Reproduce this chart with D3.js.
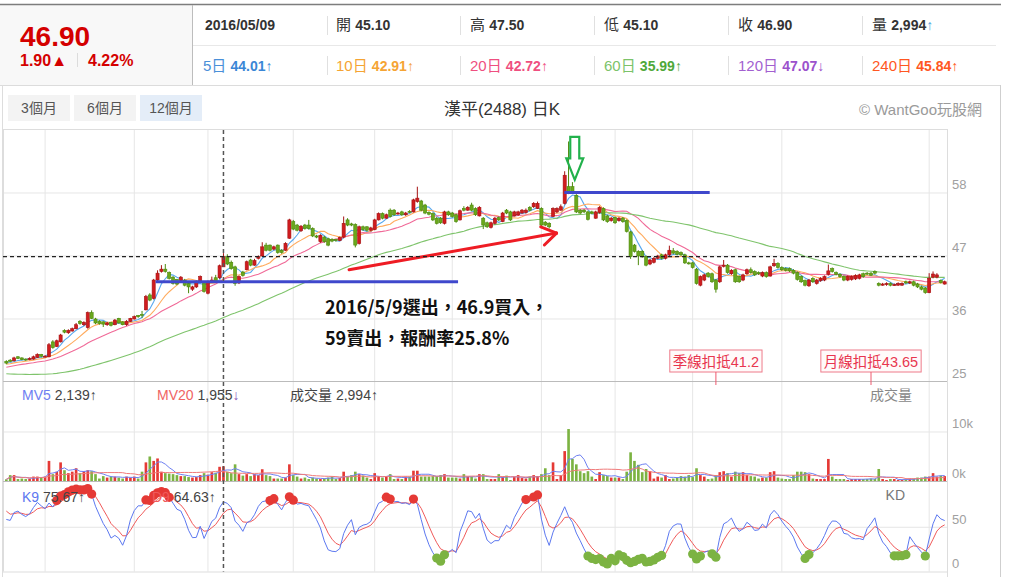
<!DOCTYPE html>
<html><head><meta charset="utf-8">
<script src="https://cdn.jsdelivr.net/npm/d3@7/dist/d3.min.js"></script>
<style>
html,body{margin:0;padding:0;background:#fff;}
svg{display:block;font-family:"Liberation Sans","Noto Sans CJK TC",Arial,sans-serif;}
</style></head><body>
<svg id="chart" width="1010" height="577"></svg>
<script>
// ---------------- DATA ----------------
const opens = [
28.6,28.8,28.7,29.4,29.2,29.0,28.9,29.0,29.3,29.8,
29.4,29.4,32.0,31.2,32.0,34.0,33.6,33.9,34.3,35.6,
35.0,34.5,37.1,36.0,35.6,35.5,35.0,35.4,35.0,36.1,
35.5,35.0,35.6,36.0,36.6,36.8,37.6,40.2,39.6,42.8,
44.3,44.7,44.1,43.3,42.9,42.7,42.8,42.2,41.2,41.6,
42.5,42.3,40.5,42.5,43.2,43.2,45.1,46.9,45.9,45.1,
42.3,44.2,44.6,46.3,45.4,46.6,47.0,48.9,48.9,48.2,
48.9,48.0,48.0,50.1,53.0,52.4,51.4,52.4,52.4,51.8,
50.5,49.5,50.3,50.0,49.9,49.9,49.7,50.3,53.3,52.6,
52.5,49.2,52.1,52.1,51.5,51.6,53.3,54.4,53.6,55.0,
55.0,54.4,54.7,54.2,54.8,54.7,56.5,56.6,55.9,54.6,
54.4,53.6,53.6,52.7,54.7,54.5,54.2,53.3,55.3,55.0,
55.9,55.3,54.0,53.6,52.8,52.0,52.7,53.7,53.0,55.0,
54.7,54.0,54.2,54.5,54.6,55.5,55.6,55.3,55.3,52.9,
52.7,53.9,54.7,55.0,56.2,59.1,59.1,57.6,55.0,55.0,
54.7,54.7,53.6,54.6,55.3,54.0,53.2,53.7,53.2,53.6,
53.2,51.2,48.9,47.8,47.8,46.9,45.6,45.9,46.6,47.2,
46.6,47.2,47.9,47.8,47.6,47.2,45.8,45.8,44.7,41.9,
42.8,44.0,43.9,42.8,42.5,45.2,45.4,43.9,44.6,43.4,
42.8,43.9,44.6,44.3,44.1,43.5,44.1,43.5,45.3,45.7,
45.0,44.8,44.8,44.5,44.1,43.4,42.7,41.8,43.1,42.2,
42.7,42.8,43.8,44.8,44.1,43.8,43.4,42.8,42.9,43.0,
43.1,43.9,44.0,44.0,44.3,42.2,41.9,42.0,42.2,41.9,
41.9,41.9,42.5,42.3,42.5,42.1,41.6,41.4,40.6,43.3,
43.3,42.7,42.1];
const closes = [
28.3,28.6,29.2,29.1,28.9,28.9,29.1,29.4,29.8,29.5,
29.5,31.5,31.0,32.2,33.2,33.7,34.0,34.3,35.0,35.2,
35.4,37.1,36.1,35.3,35.2,35.1,35.3,34.9,35.8,35.3,
35.0,35.6,36.1,36.4,36.4,36.7,39.9,39.3,42.8,44.0,
44.7,44.3,43.1,42.2,42.1,43.3,41.9,41.6,41.6,42.5,
43.4,40.8,42.5,42.8,42.6,45.3,46.9,45.6,44.8,42.2,
43.4,43.6,46.0,45.4,46.2,46.9,48.6,48.0,48.0,48.6,
47.6,47.6,49.2,53.3,51.7,51.5,52.2,51.8,51.8,50.5,
50.3,50.6,49.5,48.9,49.6,49.7,50.2,52.7,52.4,52.4,
48.9,52.1,51.6,51.5,51.9,53.3,54.4,53.6,54.2,53.9,
54.2,54.5,54.2,54.5,54.7,56.8,57.1,55.0,54.5,54.3,
53.3,52.7,52.8,54.7,54.2,53.9,53.0,54.9,55.0,55.5,
55.0,54.2,55.5,52.4,52.1,52.8,53.6,53.3,54.5,54.5,
53.3,54.7,54.7,55.0,55.0,55.0,56.2,56.2,52.4,52.4,
52.1,55.3,55.3,55.6,61.1,58.0,58.2,54.7,54.5,54.7,
53.4,54.5,54.7,55.5,53.3,53.0,53.6,52.8,53.6,53.0,
51.3,46.9,47.8,47.0,46.9,45.4,46.3,46.6,47.0,46.6,
47.2,48.0,47.5,47.3,47.2,45.8,45.7,45.0,42.2,43.4,
43.7,43.4,42.5,41.2,45.1,45.4,44.1,44.5,42.5,42.5,
43.7,44.6,44.1,43.7,43.9,44.1,43.4,45.1,45.7,45.0,
44.6,44.5,44.4,44.0,42.9,42.5,41.9,42.8,42.5,42.8,
43.1,43.4,44.4,44.3,43.8,43.4,42.8,43.4,43.4,43.6,
43.7,43.4,43.85,43.65,44.0,41.9,42.1,42.2,41.9,42.0,
42.2,42.2,42.3,42.5,41.9,41.6,41.2,40.6,43.1,43.85,
43.7,42.35,42.5];
const highs = [
28.8,29.0,29.4,29.5,29.3,29.1,29.3,29.6,30.0,29.9,
29.7,31.8,32.3,32.4,33.4,34.2,34.2,34.5,35.3,35.8,
35.6,37.3,37.5,36.2,35.8,35.6,35.5,35.5,36.0,36.2,
35.6,35.8,36.2,36.6,36.7,37.4,40.2,40.5,43.0,44.5,
45.4,45.6,44.3,43.5,43.0,43.5,43.0,42.4,41.8,42.7,
43.6,42.5,42.7,43.4,43.7,45.5,47.5,47.3,46.2,45.3,
43.6,44.4,46.2,46.5,46.5,47.1,49.4,49.3,49.0,48.8,
49.0,48.2,49.4,53.5,53.3,52.6,52.4,52.6,53.3,52.0,
50.7,50.8,50.5,50.2,50.1,50.0,50.4,53.9,53.6,52.8,
52.7,52.3,52.3,52.2,52.1,53.5,54.6,54.6,54.4,55.3,
55.2,54.7,54.9,54.7,55.0,57.0,59.1,56.8,56.1,54.8,
54.6,53.8,53.8,54.9,54.9,54.7,54.4,55.1,55.7,55.7,
56.3,55.5,55.7,53.8,53.0,53.0,53.8,53.9,54.7,55.2,
54.9,54.9,54.9,55.2,55.3,55.7,56.4,56.5,55.5,53.1,
52.9,55.5,55.5,56.0,61.8,67.0,59.9,57.8,55.2,55.2,
54.9,54.9,54.9,55.7,55.5,54.2,53.8,53.9,53.8,53.8,
53.4,51.4,49.1,48.0,48.0,47.1,46.5,46.8,47.2,47.4,
47.4,48.8,48.4,48.0,47.8,47.4,46.0,46.0,44.9,43.6,
43.9,44.2,44.1,43.0,45.3,46.3,45.6,44.7,44.8,43.6,
43.9,44.8,45.0,44.5,44.3,44.3,44.3,45.3,46.5,45.9,
45.2,45.0,45.0,44.7,44.3,43.6,42.9,43.0,43.3,43.0,
43.3,43.6,45.5,45.0,44.3,44.0,43.6,43.6,43.6,43.8,
43.9,44.1,44.2,44.2,44.5,42.4,42.3,42.4,42.4,42.2,
42.4,42.4,42.7,42.7,42.7,42.3,41.8,41.6,44.0,44.3,
44.0,42.9,42.7];
const lows = [
28.1,28.5,28.6,29.0,28.8,28.7,28.8,28.9,29.2,29.3,
29.3,29.3,30.8,31.1,31.9,33.5,33.4,33.8,34.2,35.0,
34.8,34.3,36.0,35.1,35.0,34.6,34.8,34.7,34.9,35.2,
34.9,34.8,35.5,35.9,36.2,36.2,37.5,39.1,39.4,42.6,
44.1,44.1,42.9,42.0,41.9,42.5,41.7,40.5,40.9,41.4,
42.4,40.6,40.3,42.3,42.4,43.0,45.1,45.4,44.6,41.8,
42.1,43.4,44.5,45.2,45.3,46.4,46.9,47.8,47.8,48.0,
47.4,47.4,47.9,50.0,51.5,51.3,51.2,51.6,51.6,50.3,
50.1,49.3,49.3,48.7,49.4,49.5,49.6,50.1,52.2,52.2,
48.5,49.0,51.4,51.3,51.3,51.5,53.2,53.4,53.5,53.7,
54.0,54.2,54.0,54.0,54.5,54.6,56.3,54.8,54.3,54.1,
53.1,52.5,52.6,52.5,54.0,53.7,52.8,53.2,54.8,54.9,
54.8,54.0,53.9,51.7,51.9,51.8,52.5,53.1,52.9,54.3,
53.1,53.9,54.0,54.4,54.4,54.8,55.4,55.2,52.2,52.2,
51.8,53.8,54.5,54.9,56.0,57.8,58.0,54.5,54.3,54.5,
53.2,54.3,53.5,54.4,53.1,52.8,53.0,52.6,53.0,52.8,
51.1,46.5,47.6,45.4,46.7,45.2,45.4,45.7,46.4,46.4,
46.4,47.0,47.3,47.1,47.0,45.6,45.5,44.8,42.0,41.7,
42.6,43.2,42.3,40.6,42.3,45.0,43.9,43.7,42.3,42.3,
42.6,43.7,43.9,43.5,43.7,43.3,43.2,43.4,45.1,44.8,
44.4,44.3,44.2,43.8,42.7,42.3,41.7,41.6,42.3,42.0,
42.5,42.6,43.6,44.1,43.6,43.2,42.6,42.6,42.7,42.8,
42.9,43.2,43.7,43.5,43.8,41.7,41.8,41.8,41.7,41.8,
41.8,41.8,42.1,42.1,41.7,41.4,41.0,40.4,40.5,43.1,
43.1,42.2,42.0];
// volume in thousand lots
const volumesK = [
0.35,1.2,1.2,0.4,0.5,0.4,0.5,0.9,0.9,0.8,
0.9,4.1,1.4,1.9,3.8,2.2,1.6,1.9,2.6,1.6,
2.0,2.2,2.0,1.4,0.5,1.0,0.7,0.9,0.9,0.7,
0.5,0.9,0.7,0.9,0.5,1.9,3.8,5.0,4.1,4.6,
1.9,1.6,1.5,1.4,1.2,1.0,1.0,0.8,0.7,0.8,
1.2,1.6,1.3,1.8,1.7,2.9,2.994,1.9,1.6,3.4,
1.4,1.1,1.4,1.0,1.4,1.2,2.4,1.2,1.0,0.5,
0.5,0.5,0.7,3.4,1.2,0.9,0.5,0.7,0.4,0.7,
0.5,0.4,0.5,0.7,0.9,0.4,0.6,1.9,0.9,1.2,
1.9,1.4,1.1,0.7,0.4,1.6,1.0,0.7,0.9,1.4,
0.4,0.5,0.4,0.9,0.9,2.1,2.1,0.9,0.9,0.9,
1.0,1.0,1.2,1.4,0.7,0.7,0.7,0.5,1.4,0.9,
0.9,0.5,1.4,1.4,0.4,0.4,0.4,1.4,0.9,1.1,
0.2,0.8,1.2,0.6,0.5,0.9,1.2,1.0,1.4,2.6,
1.2,3.8,0.4,1.2,6.1,10.6,4.5,3.4,2.0,1.6,
2.0,0.9,0.4,1.8,1.2,1.0,0.7,0.7,0.7,0.4,
1.9,5.85,4.1,3.3,1.8,2.45,2.0,0.5,0.9,0.7,
1.2,0.4,0.5,0.7,1.0,0.9,1.2,0.8,2.6,1.2,
0.9,0.4,0.5,1.2,1.8,2.0,1.6,0.9,1.9,1.6,
1.8,1.2,1.0,0.9,0.5,0.7,0.7,1.8,2.0,0.7,
0.5,0.4,0.4,1.2,1.9,1.9,1.8,1.4,0.5,0.4,
0.4,0.4,4.5,0.9,0.4,0.4,0.4,0.2,0.4,0.4,
0.4,0.4,0.4,0.5,0.4,2.45,0.4,0.2,0.4,0.4,
0.2,0.2,0.3,0.5,0.5,0.7,0.7,0.9,0.9,1.6,
0.9,1.1,1.0];
// closes before the first visible day (used only for the moving averages)
const priorCloses = [
30.5,30.2,30.8,30.4,29.9,29.5,29.8,29.3,28.9,29.2,
28.8,28.4,28.7,28.1,27.6,27.9,27.3,26.8,27.1,26.5,
25.0,24.4,24.8,24.1,23.6,23.9,23.3,22.8,23.1,22.6,
22.2,21.8,22.3,21.9,21.5,22.0,22.6,23.2,23.8,24.3,
25.9,26.2,26.6,26.3,26.8,27.2,27.0,27.5,27.3,27.8,
27.6,28.0,27.7,27.9,28.2,27.9,28.1,28.4,28.2,28.5];
const kdSeed = [74, 73];
const monthStartIdx = [10,33,52,74,95,115,138,157,177,200,238];
const priceTicks = [25,36,47,58];
const volTicksK = [0,10];
const kdTicks = [0,50];
const maPeriods = [5,10,20,60];
const selectedIdx = 56;
const selectedPrice = 46.9;

const headerDate = '2016/05/09';
const headerLabels = ['開','高','低','收','量'];
const headerValues = ['45.10','47.50','45.10','46.90','2,994'];
const maLabels = ['5日','10日','20日','60日','120日','240日'];
const maValues = ['44.01','42.91','42.72','35.99','47.07','45.84'];
const maArrows = ['↑','↑','↑','↑','↓','↑'];

// annotations (index / price units)
const buyLine = {from:38.5, to:116.5, price:42.5};
const sellLine = {from:143.9, to:181.4, price:58.1};
const trendArrow = {from:[88.4,44.6], to:[141.9,51.0]};
const sellMarker = {at:146.6, top:67.8, tip:60.3};
const noteLines = ['2016/5/9選出，46.9買入，','59賣出，報酬率25.8%'];

// ---------------- LAYOUT ----------------
const N = closes.length;
const svg = d3.select('#chart');
const PL = 3, PR = 947;
const P_TOP = 130, P_BOT = 381, V_BOT = 481, K_BOT = 571.5;

const x = d3.scaleBand().domain(d3.range(N)).range([4, 947]).paddingInner(0.2).paddingOuter(0.2);
const step = x.step(), bw = x.bandwidth();
const cx = i => x(0) + bw/2 + i*step;
const yP = d3.scaleLinear().domain([25.17, 69]).range([P_BOT, P_TOP]);
const yV = d3.scaleLinear().domain([0, 20.4]).range([V_BOT, P_BOT]);
const yK = d3.scaleLinear().domain([0, 102.3]).range([K_BOT, V_BOT]);

const UP_FILL='#d01c1f', UP_LINE='#a51212', DN_FILL='#6aa81c', DN_LINE='#4d8a0c';

// ---------------- HEADER ----------------
const hdr = svg.append('g');
hdr.append('rect').attr('x',0).attr('y',5).attr('width',192).attr('height',80).attr('fill','#f8f8f8');
hdr.append('line').attr('x1',0).attr('x2',1001).attr('y1',4.5).attr('y2',4.5).attr('stroke','#7d7d7d').attr('stroke-width',1.5);
hdr.append('line').attr('x1',192.5).attr('x2',192.5).attr('y1',5).attr('y2',85).attr('stroke','#bdbdbd');
hdr.append('line').attr('x1',193).attr('x2',996).attr('y1',45.5).attr('y2',45.5).attr('stroke','#e8e8e8');
hdr.append('line').attr('x1',0).attr('x2',1001).attr('y1',85.5).attr('y2',85.5).attr('stroke','#dcdcdc');

hdr.append('text').attr('x',20).attr('y',46).attr('fill','#d40000').attr('font-size',28).attr('font-weight','bold').text('46.90');
hdr.append('text').attr('x',20).attr('y',66).attr('fill','#d40000').attr('font-size',16).attr('font-weight','bold').text('1.90▲');
hdr.append('line').attr('x1',77.5).attr('x2',77.5).attr('y1',53).attr('y2',67).attr('stroke','#dcdcdc');
hdr.append('text').attr('x',88).attr('y',66).attr('fill','#d40000').attr('font-size',16).attr('font-weight','bold').text('4.22%');

const colX = [203, 336, 470, 604, 738, 872];
[327,460,594,728,862].forEach(sx=>{
  hdr.append('line').attr('x1',sx+0.5).attr('x2',sx+0.5).attr('y1',16).attr('y2',35).attr('stroke','#e0e0e0');
  hdr.append('line').attr('x1',sx+0.5).attr('x2',sx+0.5).attr('y1',56).attr('y2',75).attr('stroke','#e0e0e0');
});
hdr.append('text').attr('x',205).attr('y',30).attr('fill','#333').attr('font-size',14).attr('font-weight','bold').text(headerDate);
headerLabels.forEach((lab,i)=>{
  const t = hdr.append('text').attr('x',colX[i+1]).attr('y',30).attr('fill','#333').attr('font-size',14);
  t.append('tspan').attr('font-size',15).text(lab+' ');
  t.append('tspan').attr('font-weight','bold').text(headerValues[i]);
  if(i===4) t.append('tspan').attr('fill','#4aa3df').text('↑');
});
const maLabelCol = ['#4a90d9','#f5a434','#ef4f80','#7cc36a','#a25fd0','#ff5722'];
const maValueCol = ['#3a86d6','#f5a434','#ef4f80','#4fa83a','#9b52cc','#ff5722'];
maLabels.forEach((lab,i)=>{
  const t = hdr.append('text').attr('x',colX[i]).attr('y',71).attr('font-size',14);
  t.append('tspan').attr('fill',maLabelCol[i]).attr('font-size',15).text(lab+' ');
  t.append('tspan').attr('fill',maValueCol[i]).attr('font-weight','bold').text(maValues[i]);
  t.append('tspan').attr('fill',maValueCol[i]).text(maArrows[i]);
});

// ---------------- TOOLBAR ----------------
const tb = svg.append('g');
tb.append('line').attr('x1',2.5).attr('x2',2.5).attr('y1',85).attr('y2',577).attr('stroke','#dddddd');
tb.append('line').attr('x1',1000.5).attr('x2',1000.5).attr('y1',85).attr('y2',577).attr('stroke','#cfcfcf');
tb.append('line').attr('x1',2).attr('x2',948).attr('y1',129.5).attr('y2',129.5).attr('stroke','#dddddd');
const btns = [['3個月',8,'#f3f3f3'],['6個月',74,'#f3f3f3'],['12個月',140,'#e4edf8']];
btns.forEach(([t,bx,fill])=>{
  tb.append('rect').attr('x',bx).attr('y',95).attr('width',62).attr('height',26).attr('fill',fill);
  tb.append('text').attr('x',bx+31).attr('y',113).attr('text-anchor','middle').attr('font-size',14).attr('fill','#555').text(t);
});
tb.append('text').attr('x',502).attr('y',115).attr('text-anchor','middle').attr('font-size',17).attr('fill','#333').text('漢平(2488) 日K');
tb.append('text').attr('x',982).attr('y',115).attr('text-anchor','end').attr('font-size',15).attr('fill','#9a9a9a').text('© WantGoo玩股網');

// ---------------- GRID & FRAMES ----------------
const grid = svg.append('g');
monthStartIdx.forEach(i=>{
  grid.append('line').attr('x1',cx(i)).attr('x2',cx(i)).attr('y1',P_TOP).attr('y2',K_BOT).attr('stroke','#e6e6e6');
});
priceTicks.filter(t=>t>25).forEach(t=>{
  grid.append('line').attr('x1',PL).attr('x2',PR).attr('y1',yP(t)).attr('y2',yP(t)).attr('stroke','#e6e6e6');
});
grid.append('line').attr('x1',PL).attr('x2',PR).attr('y1',yV(10)).attr('y2',yV(10)).attr('stroke','#e6e6e6');
grid.append('line').attr('x1',PL).attr('x2',PR).attr('y1',yK(50)).attr('y2',yK(50)).attr('stroke','#e6e6e6');
grid.append('line').attr('x1',PL+0.5).attr('x2',PL+0.5).attr('y1',P_TOP).attr('y2',K_BOT).attr('stroke','#dddddd');
grid.append('line').attr('x1',PR+0.5).attr('x2',PR+0.5).attr('y1',P_TOP).attr('y2',577).attr('stroke','#dddddd');
[P_BOT, V_BOT].forEach(yy=>grid.append('line').attr('x1',PL).attr('x2',PR).attr('y1',yy+0.5).attr('y2',yy+0.5).attr('stroke','#bbbbbb'));
grid.append('line').attr('x1',PL).attr('x2',PR).attr('y1',K_BOT+0.5).attr('y2',K_BOT+0.5).attr('stroke','#dddddd');

// axis labels
const ax = svg.append('g').attr('font-size',13).attr('fill','#a0a0a0');
priceTicks.forEach(t=>ax.append('text').attr('x',952).attr('y',yP(t)-4).text(t));
volTicksK.forEach(t=>ax.append('text').attr('x',952).attr('y',yV(t)-3.5).text(t+'k'));
kdTicks.forEach(t=>ax.append('text').attr('x',952).attr('y',yK(t)-3.5).text(t));

// ---------------- PRICE PANEL ----------------
svg.append('clipPath').attr('id','pclip').append('rect').attr('x',PL).attr('y',P_TOP).attr('width',PR-PL).attr('height',P_BOT-P_TOP);
const pg = svg.append('g').attr('clip-path','url(#pclip)');
const allCloses = priorCloses.concat(closes);
const P = priorCloses.length;
const maColors = ['#58a8ee','#ffab5e','#f06a98','#7fc46c'];
maPeriods.forEach((n,k)=>{
  const vals = closes.map((c,i)=>d3.mean(allCloses.slice(P+i-n+1, P+i+1)));
  pg.append('path').datum(vals).attr('fill','none').attr('stroke',maColors[k]).attr('stroke-width',1.1)
    .attr('d', d3.line().x((d,i)=>cx(i)).y(d=>yP(d)));
});
const cg = pg.append('g');
d3.range(N).forEach(i=>{
  const up = closes[i] >= opens[i];
  const line = up?UP_LINE:DN_LINE, fill = up?UP_FILL:DN_FILL;
  cg.append('line').attr('x1',cx(i)).attr('x2',cx(i)).attr('y1',yP(highs[i])).attr('y2',yP(lows[i])).attr('stroke',line).attr('stroke-width',1);
  const top = yP(Math.max(opens[i],closes[i])), bot = yP(Math.min(opens[i],closes[i]));
  cg.append('rect').attr('x',cx(i)-bw/2).attr('y',top).attr('width',bw).attr('height',Math.max(1,bot-top))
    .attr('fill',fill).attr('stroke',line).attr('stroke-width',0.6);
});

// annotations
const an = svg.append('g');
[buyLine, sellLine].forEach(l=>{
  an.append('line').attr('x1',cx(l.from)).attr('x2',cx(l.to)).attr('y1',yP(l.price)).attr('y2',yP(l.price))
    .attr('stroke','#3f48cc').attr('stroke-width',3);
});
{
  const x1=cx(trendArrow.from[0]), y1=yP(trendArrow.from[1]), x2=cx(trendArrow.to[0]), y2=yP(trendArrow.to[1]);
  an.append('line').attr('x1',x1).attr('y1',y1).attr('x2',x2).attr('y2',y2).attr('stroke','#ee1c24').attr('stroke-width',3).attr('stroke-linecap','round');
  const ang = Math.atan2(y2-y1, x2-x1), hl = 17;
  [0.55,-0.6].forEach(da=>{
    an.append('line').attr('x1',x2).attr('y1',y2).attr('x2',x2-hl*Math.cos(ang+da)).attr('y2',y2-hl*Math.sin(ang+da))
      .attr('stroke','#ee1c24').attr('stroke-width',3).attr('stroke-linecap','round');
  });
}
{
  const mx = cx(sellMarker.at), yt = yP(sellMarker.top), ytip = yP(sellMarker.tip);
  const shaftBot = yt + (ytip-yt)*0.5;
  const pts = [[mx-4.5,yt],[mx+4.5,yt],[mx+4.5,shaftBot],[mx+8.5,shaftBot],[mx,ytip],[mx-8.5,shaftBot],[mx-4.5,shaftBot]];
  an.append('polygon').attr('points',pts.map(p=>p.join(',')).join(' ')).attr('fill','none').attr('stroke','#22b14c').attr('stroke-width',2.2);
}
noteLines.forEach((t,k)=>{
  an.append('text').attr('x',325).attr('y',314+k*31).attr('font-size',18).attr('font-weight','bold')
    .attr('fill','#111').attr('font-family','"Noto Sans CJK TC","Liberation Sans",sans-serif').text(t);
});
// 扣抵 boxes
[[60,'季線扣抵'],[20,'月線扣抵']].forEach(([n,lab])=>{
  const i = N-n, bx = cx(i);
  const t = an.append('text').attr('x',bx).attr('y',367).attr('text-anchor','middle').attr('font-size',14.5)
    .attr('fill','#e8364f').text(lab+closes[i]);
  const bb = t.node().getBBox();
  an.insert('rect','text').attr('x',bb.x-3).attr('y',350).attr('width',bb.width+6).attr('height',22)
    .attr('fill','#fffafa').attr('stroke','#ee7b8a').attr('stroke-width',1);
  an.append('line').attr('x1',bx).attr('x2',bx).attr('y1',372).attr('y2',385).attr('stroke','#ee5a6e');
});

// ---------------- VOLUME PANEL ----------------
const vg = svg.append('g');
d3.range(N).forEach(i=>{
  const c = closes[i]>opens[i]?'#e53935':(closes[i]<opens[i]?'#7cb342':'#cccccc');
  const vw = bw*0.85;
  vg.append('rect').attr('x',cx(i)-vw/2).attr('y',yV(volumesK[i])).attr('width',vw).attr('height',V_BOT-yV(volumesK[i])).attr('fill',c);
});
[[5,'#6e80f2'],[20,'#f07a7a']].forEach(([n,col])=>{
  const vals = volumesK.map((v,i)=>d3.mean(volumesK.slice(Math.max(0,i-n+1), i+1)));
  vg.append('path').datum(vals).attr('fill','none').attr('stroke',col).attr('stroke-width',1)
    .attr('d', d3.line().x((d,i)=>cx(i)).y(d=>yV(d)));
});
const vl = svg.append('g').attr('font-size',14);
{
  let t = vl.append('text').attr('x',22).attr('y',400);
  t.append('tspan').attr('fill','#6e80f2').text('MV5 ');
  t.append('tspan').attr('fill','#444').text('2,139↑');
  t = vl.append('text').attr('x',157).attr('y',400);
  t.append('tspan').attr('fill','#f06464').text('MV20 ');
  t.append('tspan').attr('fill','#444').text('1,955');
  t.append('tspan').attr('fill','#8a5ab8').text('↓');
  t = vl.append('text').attr('x',290).attr('y',400).attr('fill','#444').text('成交量 2,994↑');
  vl.append('text').attr('x',912).attr('y',400).attr('text-anchor','end').attr('fill','#888').text('成交量');
}

// ---------------- KD PANEL ----------------
const kVals=[], dVals=[];
{
  let K=kdSeed[0], D=kdSeed[1];
  for(let i=0;i<N;i++){
    const lo=Math.max(0,i-8);
    const hh=d3.max(highs.slice(lo,i+1)), ll=d3.min(lows.slice(lo,i+1));
    const rsv = hh>ll ? (closes[i]-ll)/(hh-ll)*100 : 50;
    K = K*2/3 + rsv/3; D = D*2/3 + K/3;
    kVals.push(K); dVals.push(D);
  }
}
const kg = svg.append('g');
const kl = svg.append('g').attr('font-size',14);
{
  let t = kl.append('text').attr('x',22).attr('y',502);
  t.append('tspan').attr('fill','#5c78f0').text('K9 ');
  t.append('tspan').attr('fill','#444').text('75.67↑');
  t = kl.append('text').attr('x',152).attr('y',502);
  t.append('tspan').attr('fill','#f05a5a').text('D9 ');
  t.append('tspan').attr('fill','#444').text('64.63↑');
  kl.append('text').attr('x',905).attr('y',500).attr('text-anchor','end').attr('fill','#777').text('KD');
}
kg.append('path').datum(dVals).attr('fill','none').attr('stroke','#f05a5a').attr('stroke-width',1).attr('d',d3.line().x((d,i)=>cx(i)).y(d=>yK(d)));
kg.append('path').datum(kVals).attr('fill','none').attr('stroke','#5c78f0').attr('stroke-width',1).attr('d',d3.line().x((d,i)=>cx(i)).y(d=>yK(d)));
kVals.forEach((k,i)=>{
  if(k>80) kg.append('circle').attr('cx',cx(i)).attr('cy',yK(k)).attr('r',4.6).attr('fill','#e53935');
  else if(k<20) kg.append('circle').attr('cx',cx(i)).attr('cy',yK(k)).attr('r',4.6).attr('fill','#7cb342');
});

// ---------------- CROSSHAIR ----------------
svg.append('line').attr('x1',cx(selectedIdx)).attr('x2',cx(selectedIdx)).attr('y1',P_TOP).attr('y2',K_BOT)
  .attr('stroke','#555').attr('stroke-width',1.5).attr('stroke-dasharray','4,3');
svg.append('line').attr('x1',PL).attr('x2',PR).attr('y1',yP(selectedPrice)).attr('y2',yP(selectedPrice))
  .attr('stroke','#222').attr('stroke-width',1.2).attr('stroke-dasharray','4,3');
</script>
</body></html>
